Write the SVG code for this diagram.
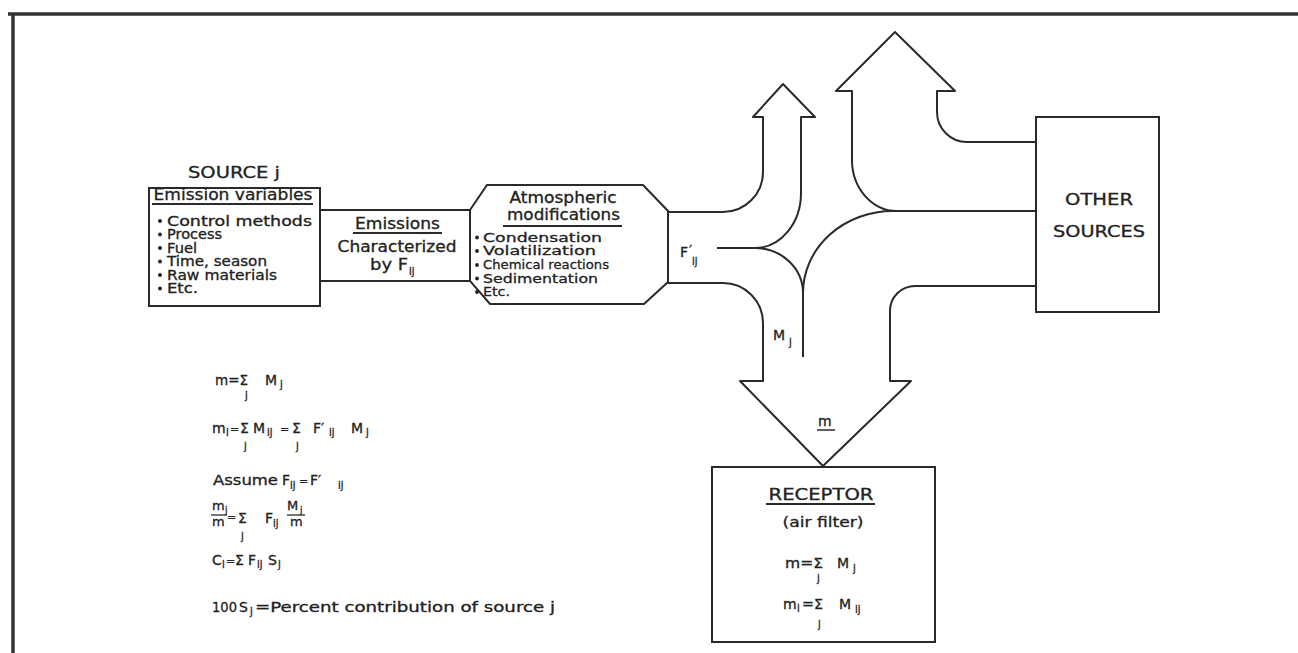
<svg xmlns="http://www.w3.org/2000/svg" width="1298" height="653" viewBox="0 0 1298 653">
<style>
.ln{fill:none;stroke:#2a2a2a;stroke-width:2;stroke-linejoin:round}
.bx{fill:#fff;stroke:#2a2a2a;stroke-width:2}
.t{font-family:"DejaVu Sans","Liberation Sans",sans-serif;fill:#222;stroke:#222;stroke-width:0.3;font-size:14px}
.c{text-anchor:middle}
.s{font-size:10px}
.b{fill:#222}
</style>
<rect width="1298" height="653" fill="#fff"/>
<path d="M8 14 H1298 M13 14 V653" fill="none" stroke="#333" stroke-width="3.5"/>

<g id="connectors">
  <path class="ln" d="M667 212 H723 A40 40 0 0 0 763 172 V117 H753 L783 84 L815 117 H801 V193 A46 55 0 0 1 755 248"/>
  <path class="ln" d="M717 248 H755"/>
  <path class="ln" d="M755 248 A48 45 0 0 1 803 293"/>
  <path class="ln" d="M803 293 V357"/>
  <path class="ln" d="M803 293 A90 82 0 0 1 893 211 H1035"/>
  <path class="ln" d="M1035 142 H967 A30 30 0 0 1 937 112 V91 H955 L895 32 L836 91 H852 V160 A45 51 0 0 0 897 211"/>
  <path class="ln" d="M667 283 H723 A40 40 0 0 1 763 323 V381 H740 L823 466 L911 381 H890 V311 A25 25 0 0 1 915 286 H1035"/>
</g>

<g id="source">
  <text class="t c" x="234" y="178" style="font-size:16px" textLength="92" lengthAdjust="spacingAndGlyphs">SOURCE j</text>
  <rect class="bx" x="149" y="188" width="171" height="118"/>
  <text class="t c" x="233" y="200" style="font-size:16px" textLength="159" lengthAdjust="spacingAndGlyphs">Emission variables</text>
  <line class="ln" x1="152" y1="204" x2="313" y2="204"/>
  <circle class="b" cx="160" cy="221" r="2"/>
  <circle class="b" cx="160" cy="234.5" r="2"/>
  <circle class="b" cx="160" cy="248" r="2"/>
  <circle class="b" cx="160" cy="261.5" r="2"/>
  <circle class="b" cx="160" cy="275" r="2"/>
  <circle class="b" cx="160" cy="288.5" r="2"/>
  <text class="t" x="167" y="225.5" style="font-size:13.5px" textLength="145" lengthAdjust="spacingAndGlyphs">Control methods</text>
  <text class="t" x="167" y="239" style="font-size:13.5px" textLength="55" lengthAdjust="spacingAndGlyphs">Process</text>
  <text class="t" x="167" y="252.5" style="font-size:13.5px" textLength="30" lengthAdjust="spacingAndGlyphs">Fuel</text>
  <text class="t" x="167" y="266" style="font-size:13.5px" textLength="100" lengthAdjust="spacingAndGlyphs">Time, season</text>
  <text class="t" x="167" y="279.5" style="font-size:13.5px" textLength="110" lengthAdjust="spacingAndGlyphs">Raw materials</text>
  <text class="t" x="167" y="293" style="font-size:13.5px" textLength="31" lengthAdjust="spacingAndGlyphs">Etc.</text>
</g>

<g id="emissions">
  <rect class="bx" x="320" y="210" width="150" height="71"/>
  <text class="t c" x="397.5" y="229" style="font-size:15px" textLength="85" lengthAdjust="spacingAndGlyphs">Emissions</text>
  <line class="ln" x1="353" y1="233" x2="442" y2="233"/>
  <text class="t c" x="397" y="252" style="font-size:15px" textLength="119" lengthAdjust="spacingAndGlyphs">Characterized</text>
  <text class="t" x="370" y="270" style="font-size:15px" textLength="38" lengthAdjust="spacingAndGlyphs">by F</text>
  <text class="t s" x="409" y="275">ij</text>
</g>

<g id="atmospheric">
  <polygon class="bx" points="487,185 643,185 668,211 668,282 644,304 490,304 470,281 470,210"/>
  <text class="t c" x="563" y="203" style="font-size:15px" textLength="107" lengthAdjust="spacingAndGlyphs">Atmospheric</text>
  <text class="t c" x="563.5" y="220" style="font-size:15px" textLength="113" lengthAdjust="spacingAndGlyphs">modifications</text>
  <line class="ln" x1="503" y1="226" x2="622" y2="226"/>
  <circle class="b" cx="477" cy="237.5" r="1.9"/>
  <circle class="b" cx="477" cy="251" r="1.9"/>
  <circle class="b" cx="477" cy="265" r="1.9"/>
  <circle class="b" cx="477" cy="278.5" r="1.9"/>
  <circle class="b" cx="477" cy="292" r="1.9"/>
  <text class="t" x="483" y="241.5" style="font-size:13px" textLength="119" lengthAdjust="spacingAndGlyphs">Condensation</text>
  <text class="t" x="483" y="255" style="font-size:13px" textLength="113" lengthAdjust="spacingAndGlyphs">Volatilization</text>
  <text class="t" x="483" y="269" style="font-size:13px" textLength="126" lengthAdjust="spacingAndGlyphs">Chemical reactions</text>
  <text class="t" x="483" y="282.5" style="font-size:13px" textLength="115" lengthAdjust="spacingAndGlyphs">Sedimentation</text>
  <text class="t" x="483" y="296" style="font-size:13px" textLength="27" lengthAdjust="spacingAndGlyphs">Etc.</text>
</g>

<g id="flow-labels">
  <text class="t" x="680" y="257">F</text>
  <text class="t" x="689" y="255">′</text>
  <text class="t s" x="692" y="265">ij</text>
  <text class="t" x="773" y="340">M</text>
  <text class="t s" x="789" y="346">j</text>
  <text class="t" x="818" y="426">m</text>
  <line class="ln" x1="817" y1="430" x2="835" y2="430" style="stroke-width:1.5"/>
</g>

<g id="other-sources">
  <rect class="bx" x="1036" y="117" width="123" height="195"/>
  <text class="t c" x="1099" y="205" style="font-size:15px" textLength="68" lengthAdjust="spacingAndGlyphs">OTHER</text>
  <text class="t c" x="1099" y="237" style="font-size:15px" textLength="92" lengthAdjust="spacingAndGlyphs">SOURCES</text>
</g>

<g id="receptor">
  <rect class="bx" x="712" y="467" width="223" height="175"/>
  <text class="t c" x="821" y="500" style="font-size:15px" textLength="105" lengthAdjust="spacingAndGlyphs">RECEPTOR</text>
  <line class="ln" x1="766" y1="504" x2="875" y2="504"/>
  <text class="t c" x="823" y="527" style="font-size:14px" textLength="81" lengthAdjust="spacingAndGlyphs">(air filter)</text>
  <text class="t" x="785" y="568" textLength="38" lengthAdjust="spacingAndGlyphs">m=Σ</text>
  <text class="t" x="837" y="568">M</text>
  <text class="t s" x="853" y="572">j</text>
  <text class="t s" x="817" y="582">j</text>
  <text class="t" x="783" y="609">m</text>
  <text class="t s" x="797" y="612">i</text>
  <text class="t" x="802" y="609" textLength="21" lengthAdjust="spacingAndGlyphs">=Σ</text>
  <text class="t" x="839" y="609">M</text>
  <text class="t s" x="855" y="613">ij</text>
  <text class="t s" x="818" y="628">j</text>
</g>

<g id="equations">
  <text class="t" x="215" y="385" textLength="33" lengthAdjust="spacingAndGlyphs">m=Σ</text>
  <text class="t" x="265" y="385">M</text>
  <text class="t s" x="280" y="388">j</text>
  <text class="t s" x="245" y="399">j</text>

  <text class="t" x="212" y="433">m</text>
  <text class="t s" x="226" y="436">i</text>
  <text class="t" x="230" y="433" style="font-size:11px">=</text>
  <text class="t" x="240" y="433">Σ</text>
  <text class="t" x="253" y="433">M</text>
  <text class="t s" x="267" y="436">ij</text>
  <text class="t" x="280" y="433" style="font-size:11px">=</text>
  <text class="t" x="292" y="433">Σ</text>
  <text class="t" x="313" y="433">F′</text>
  <text class="t s" x="329" y="436">ij</text>
  <text class="t" x="351" y="433">M</text>
  <text class="t s" x="366" y="436">j</text>
  <text class="t s" x="244" y="450">j</text>
  <text class="t s" x="296" y="450">j</text>

  <text class="t" x="213" y="485" textLength="65" lengthAdjust="spacingAndGlyphs">Assume</text>
  <text class="t" x="282" y="485">F</text>
  <text class="t s" x="290" y="489">ij</text>
  <text class="t" x="299" y="485" style="font-size:11px">=</text>
  <text class="t" x="310" y="485">F′</text>
  <text class="t s" x="338" y="489">ij</text>

  <text class="t" x="212" y="510" style="font-size:13px">m</text>
  <text class="t s" x="225" y="513" style="font-size:9px">j</text>
  <line class="ln" x1="211" y1="515" x2="227" y2="515" style="stroke-width:1.3"/>
  <text class="t" x="212" y="526" style="font-size:13px">m</text>
  <text class="t" x="227" y="521" style="font-size:11px">=</text>
  <text class="t" x="238" y="523">Σ</text>
  <text class="t s" x="241" y="540">j</text>
  <text class="t" x="265" y="523">F</text>
  <text class="t s" x="273" y="527">ij</text>
  <text class="t" x="287" y="510" style="font-size:13px">M</text>
  <text class="t s" x="300" y="513" style="font-size:9px">j</text>
  <line class="ln" x1="287" y1="515" x2="305" y2="515" style="stroke-width:1.3"/>
  <text class="t" x="290" y="526" style="font-size:13px">m</text>

  <text class="t" x="212" y="565">C</text>
  <text class="t s" x="222" y="568">i</text>
  <text class="t" x="226" y="565" style="font-size:11px">=</text>
  <text class="t" x="235" y="565">Σ</text>
  <text class="t" x="248" y="565">F</text>
  <text class="t s" x="257" y="568">ij</text>
  <text class="t" x="268" y="565">S</text>
  <text class="t s" x="278" y="568">j</text>

  <text class="t" x="212" y="612" textLength="25" lengthAdjust="spacingAndGlyphs">100</text>
  <text class="t" x="239" y="612">S</text>
  <text class="t s" x="250" y="615">j</text>
  <text class="t" x="255" y="612" textLength="300" lengthAdjust="spacingAndGlyphs">=Percent contribution of source j</text>
</g>
</svg>
